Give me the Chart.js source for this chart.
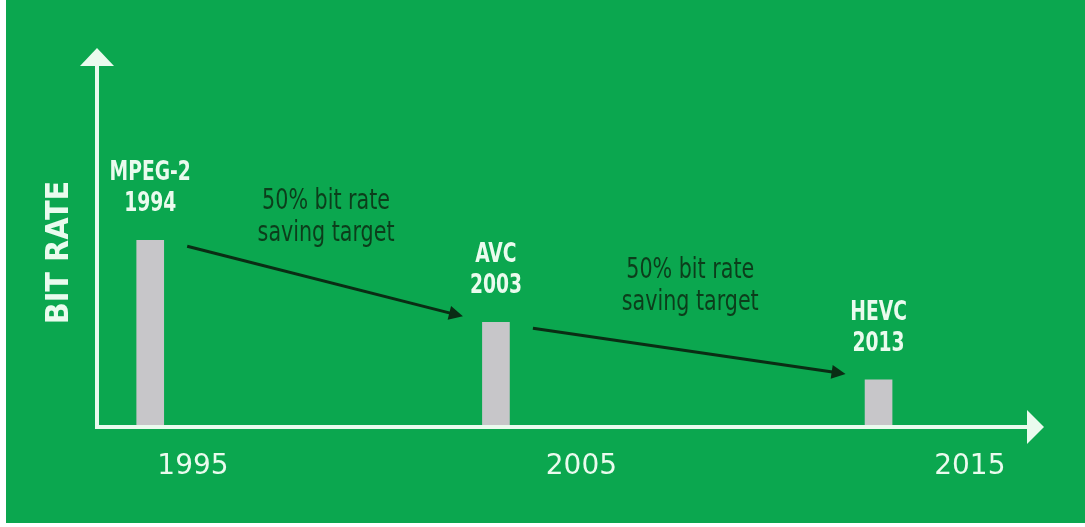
<!DOCTYPE html>
<html>
<head>
<meta charset="utf-8">
<script src="https://cdn.jsdelivr.net/npm/chart.js@4/dist/chart.umd.min.js"></script>
<style>
  html, body { margin: 0; padding: 0; background: #ffffff; }
  #wrap { width: 1085px; height: 527px; }
</style>
</head>
<body>
<div id="wrap"><canvas id="chart" width="1085" height="527"></canvas></div>
<script>
// datos
const codecs = ['MPEG-2', 'AVC', 'HEVC'];
const codecYears = ['1994', '2003', '2013'];
const barX = [1993.9, 2002.8, 2012.65];   // posición en el eje de años
const bitRate = [53.5, 30, 13.5];          // altura relativa (0-100)
const tickYears = [1995, 2005, 2015];
const arrowText = ['50% bit rate', 'saving target'];

const green = '#0ba74f';
const white = '#eafbee';
const dark = '#0a2d14';
const narrow = '"Liberation Sans Narrow", "DejaVu Sans Condensed", sans-serif';

// texto estrechado en horizontal
function narrowText(c, txt, x, y, sx) {
  c.save();
  c.translate(x, y);
  c.scale(sx, 1);
  c.fillText(txt, 0, 0);
  c.restore();
}

// fondo, ejes con flechas, etiquetas y flechas de ahorro
const decor = {
  id: 'decor',
  beforeDraw(chart) {
    const c = chart.ctx;
    c.save();
    c.fillStyle = green;
    c.fillRect(6, 0, chart.width - 6, chart.height - 4);
    c.restore();
  },
  afterDatasetsDraw(chart) {
    const c = chart.ctx;
    const a = chart.chartArea;
    const bars = chart.getDatasetMeta(0).data;
    c.save();

    // ejes
    c.strokeStyle = white;
    c.fillStyle = white;
    c.lineWidth = 4;
    c.beginPath();
    c.moveTo(a.left, a.bottom + 2);
    c.lineTo(a.left, a.top - 12);
    c.moveTo(a.left - 2, a.bottom);
    c.lineTo(a.right + 2, a.bottom);
    c.stroke();
    // punta eje y
    c.beginPath();
    c.moveTo(a.left, a.top - 30);
    c.lineTo(a.left - 17, a.top - 12);
    c.lineTo(a.left + 17, a.top - 12);
    c.closePath();
    c.fill();
    // punta eje x
    c.beginPath();
    c.moveTo(a.right + 19, a.bottom);
    c.lineTo(a.right + 2, a.bottom - 17);
    c.lineTo(a.right + 2, a.bottom + 17);
    c.closePath();
    c.fill();

    // nombres sobre las barras
    c.textAlign = 'center';
    c.textBaseline = 'middle';
    c.font = 'bold 26px ' + narrow;
    bars.forEach((b, i) => {
      narrowText(c, codecs[i], b.x, b.y - 67, 0.8);
      narrowText(c, codecYears[i], b.x, b.y - 36, 0.8);
    });

    // flechas entre barras
    c.strokeStyle = dark;
    c.fillStyle = dark;
    c.lineWidth = 3;
    c.font = '28px ' + narrow;
    for (let i = 0; i < bars.length - 1; i++) {
      const x1 = bars[i].x + 37, y1 = bars[i].y + 6;
      const x2 = bars[i + 1].x - 33, y2 = bars[i + 1].y - 6;
      const ang = Math.atan2(y2 - y1, x2 - x1);
      c.beginPath();
      c.moveTo(x1, y1);
      c.lineTo(x2 - 8 * Math.cos(ang), y2 - 8 * Math.sin(ang));
      c.stroke();
      c.beginPath();
      c.moveTo(x2, y2);
      c.lineTo(x2 - 14 * Math.cos(ang) + 7 * Math.sin(ang), y2 - 14 * Math.sin(ang) - 7 * Math.cos(ang));
      c.lineTo(x2 - 14 * Math.cos(ang) - 7 * Math.sin(ang), y2 - 14 * Math.sin(ang) + 7 * Math.cos(ang));
      c.closePath();
      c.fill();
      const mx = (x1 + x2) / 2, my = (y1 + y2) / 2;
      c.fillStyle = '#0c3d1b';
      narrowText(c, arrowText[0], mx + 1, my - 80, 0.82);
      narrowText(c, arrowText[1], mx + 1, my - 48, 0.82);
      c.fillStyle = dark;
    }
    c.restore();
  }
};

new Chart(document.getElementById('chart'), {
  type: 'bar',
  data: {
    datasets: [{
      data: barX.map((x, i) => ({ x: x, y: bitRate[i] })),
      backgroundColor: '#c7c6c9',
      barThickness: 27
    }]
  },
  options: {
    responsive: false,
    animation: false,
    layout: { padding: { top: 78, right: 60, left: 0, bottom: 0 } },
    plugins: { legend: { display: false }, tooltip: { enabled: false } },
    scales: {
      x: {
        type: 'linear',
        offset: false,
        min: 1992.53,
        max: 2016.42,
        afterBuildTicks: s => { s.ticks = tickYears.map(v => ({ value: v })); },
        afterFit: s => { s.height = 100; },
        grid: { display: false, drawTicks: false, offset: false },
        border: { display: false },
        ticks: {
          color: white,
          padding: 23,
          maxRotation: 0,
          autoSkip: false,
          font: { family: '"DejaVu Sans"', size: 28 },
          callback: v => String(v)
        }
      },
      y: {
        min: 0,
        max: 100,
        afterFit: s => { s.width = 97; },
        grid: { display: false, drawTicks: false },
        border: { display: false },
        ticks: { display: false },
        title: {
          display: true,
          text: 'BIT RATE',
          color: white,
          padding: { top: 40, bottom: 0 },
          font: { family: narrow, size: 32, weight: 'bold' }
        }
      }
    }
  },
  plugins: [decor]
});
</script>
</body>
</html>
